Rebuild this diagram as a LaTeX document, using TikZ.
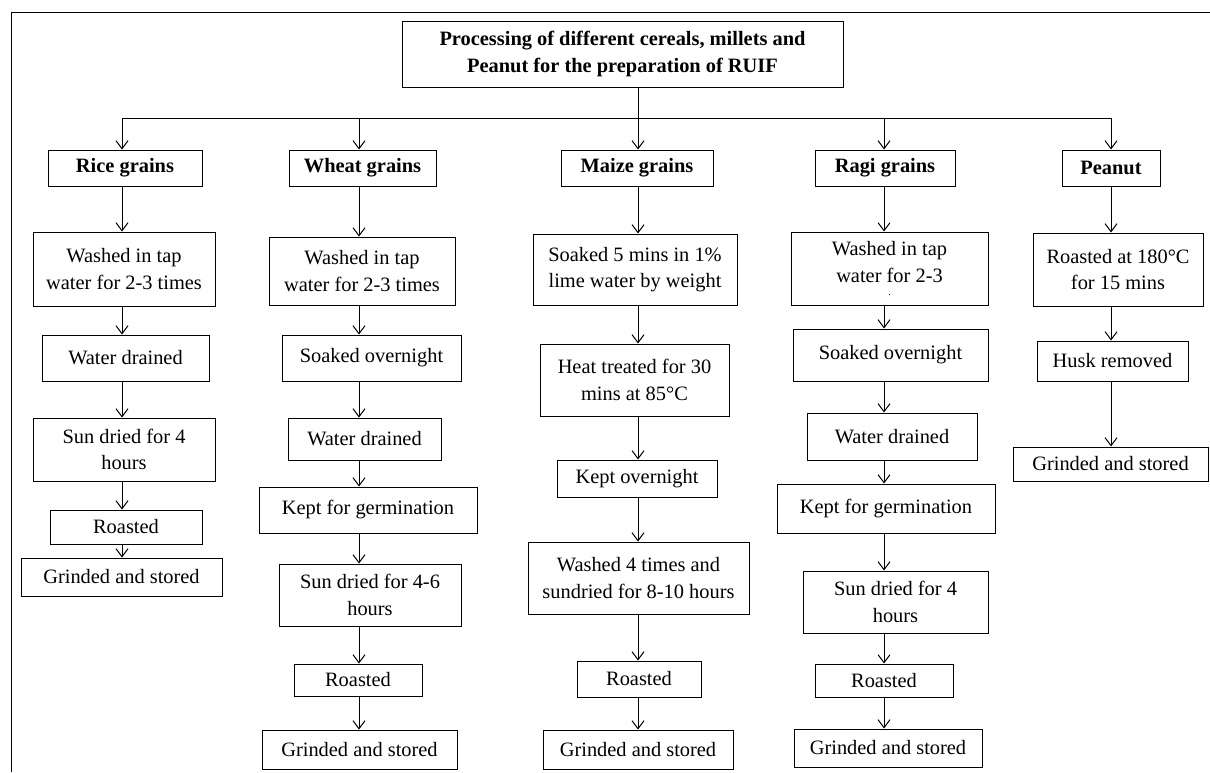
\documentclass[tikz,border=0pt]{standalone}
\usepackage{fontspec}
\setmainfont{Liberation Serif}
\usetikzlibrary{arrows.meta,positioning}

\tikzset{
  box/.style 2 args={draw, align=center, inner sep=1pt,
    minimum width=#1*0.5pt, minimum height=#2*0.5pt,
    font=\fontsize{10.2}{13.3}\selectfont},
  head/.style 2 args={box={#1}{#2}, font=\fontsize{10.2}{13.3}\selectfont\bfseries},
  arr/.style={-{Straight Barb[length=4pt,width=6pt]}},
}

\begin{document}
\begin{tikzpicture}[x=0.5pt, y=-0.5pt, line width=0.5pt]
    \useasboundingbox (0,0) rectangle (1210,772);
    \draw (11,772) -- (11,12) -- (1210,12);

    % Title
    \node[head={441}{66}] (title) at (622.5,54)
        {Processing of different cereals, millets and\\Peanut for the preparation of RUIF};

    % Column positions
    \coordinate (rc) at (122,118);
    \coordinate (wc) at (359,118);
    \coordinate (mc) at (638,118);
    \coordinate (gc) at (884,118);
    \coordinate (pc) at (1111,118);

    % Grains
    \node[head={154}{36}] (rice)   at (125,168) {Rice grains};
    \node[head={147}{36}] (wheat)  at (362.5,168) {Wheat grains};
    \node[head={152}{36}] (maize)  at (637,168) {Maize grains};
    \node[head={140}{36}] (ragi)   at (885,168) {Ragi grains};
    \node[head={98}{36}]  (peanut) at (1111,168) {Peanut};

    % Rice
    \node[box={182}{74}] (r1) at (124,269) {Washed in tap\\water for 2-3 times};
    \node[box={167}{46}] (r2) at (125.5,358) {Water drained};
    \node[box={182}{63}] (r3) at (124,449.5) {Sun dried for 4\\hours};
    \node[box={152}{34}] (r4) at (126,527) {Roasted};
    \node[box={201}{38}] (r5) at (121.5,577) {Grinded and stored};

    % Wheat
    \node[box={186}{68}] (w1) at (362,271) {Washed in tap\\water for 2-3 times};
    \node[box={179}{46}] (w2) at (371.5,358) {Soaked overnight};
    \node[box={153}{42}] (w3) at (364.5,439) {Water drained};
    \node[box={218}{46}] (w4) at (368,510) {Kept for germination};
    \node[box={182}{62}] (w5) at (370,595) {Sun dried for 4-6\\hours};
    \node[box={128}{32}] (w6) at (358,680) {Roasted};
    \node[box={195}{39}] (w7) at (359.5,749.5) {Grinded and stored};

    % Maize
    \node[box={204}{71}] (m1) at (635,269.5) {Soaked 5 mins in 1\%\\lime water by weight};
    \node[box={189}{72}] (m2) at (634.5,380) {Heat treated for 30\\mins at 85°C};
    \node[box={160}{37}] (m3) at (637,478.5) {Kept overnight};
    \node[box={221}{72}] (m4) at (638.5,578) {Washed 4 times and\\sundried for 8-10 hours};
    \node[box={124}{36}] (m5) at (639,679) {Roasted};
    \node[box={190}{39}] (m6) at (638,749.5) {Grinded and stored};

    % Ragi
    \node[box={197}{73}] (g1) at (889.5,268.5) {Washed in tap\\water for 2-3\\[-7pt]{\tiny .}};
    \node[box={195}{52}] (g2) at (890.5,355) {Soaked overnight};
    \node[box={170}{47}] (g3) at (892,436.5) {Water drained};
    \node[box={218}{49}] (g4) at (886,508.5) {Kept for germination};
    \node[box={185}{62}] (g5) at (895.5,602) {Sun dried for 4\\hours};
    \node[box={138}{33}] (g6) at (884,680.5) {Roasted};
    \node[box={188}{38}] (g7) at (888,748) {Grinded and stored};

    % Peanut
    \node[box={170}{73}] (p1) at (1118,269.5) {Roasted at 180°C\\for 15 mins};
    \node[box={151}{40}] (p2) at (1112.5,361) {Husk removed};
    \node[box={195}{34}] (p3) at (1110.5,464) {Grinded and stored};

    % Connectors
    \draw (title.south -| mc) -- (mc);
    \draw (rc) -- (pc);
    \foreach \c/\n in {rc/rice, wc/wheat, mc/maize, gc/ragi, pc/peanut}
        \draw[arr] (\c) -- (\n.north -| \c);

    \foreach \a/\b in {rice/r1, r1/r2, r2/r3, r3/r4, r4/r5}
        \draw[arr] (\a.south -| rc) -- (\b.north -| rc);
    \foreach \a/\b in {wheat/w1, w1/w2, w2/w3, w3/w4, w4/w5, w5/w6, w6/w7}
        \draw[arr] (\a.south -| wc) -- (\b.north -| wc);
    \foreach \a/\b in {maize/m1, m1/m2, m2/m3, m3/m4, m4/m5, m5/m6}
        \draw[arr] (\a.south -| mc) -- (\b.north -| mc);
    \foreach \a/\b in {ragi/g1, g1/g2, g2/g3, g3/g4, g4/g5, g5/g6, g6/g7}
        \draw[arr] (\a.south -| gc) -- (\b.north -| gc);
    \foreach \a/\b in {peanut/p1, p1/p2, p2/p3}
        \draw[arr] (\a.south -| pc) -- (\b.north -| pc);
\end{tikzpicture}
\end{document}
